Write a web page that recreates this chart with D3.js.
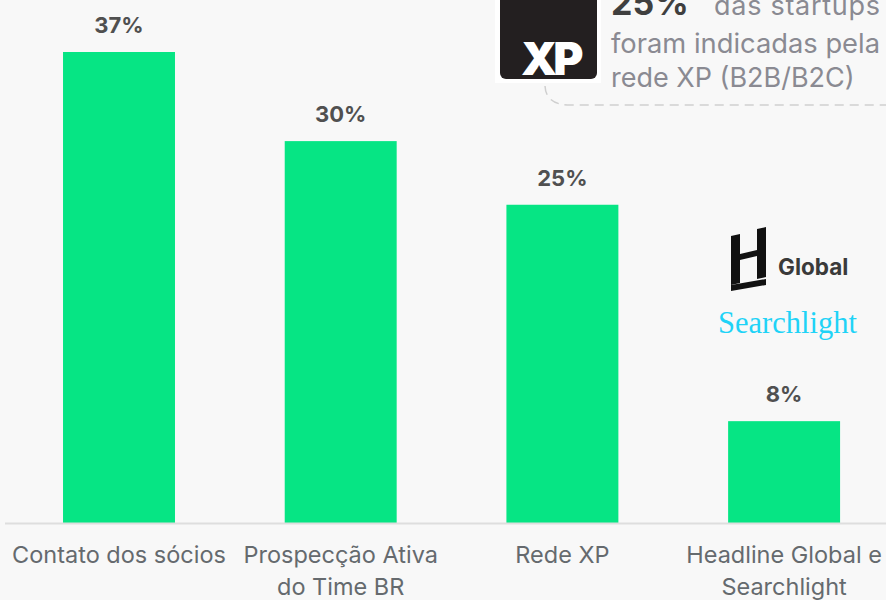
<!DOCTYPE html>
<html><head><meta charset="utf-8">
<script src="https://cdn.jsdelivr.net/npm/d3@7"></script>
<style>
html,body{margin:0;padding:0;background:#f8f8f8;}
svg{display:block;}
</style></head>
<body>
<svg id="c" width="886" height="600"></svg>
<script>
const categories = ["Contato dos sócios", "Prospecção Ativa|do Time BR", "Rede XP", "Headline Global e|Searchlight"];
const values = [37, 30, 25, 8];
const valueLabels = ["37%", "30%", "25%", "8%"];

const W = 886, H = 600;
const svg = d3.select("#c");
svg.append("rect").attr("width", W).attr("height", H).attr("fill", "#f8f8f8");

const x = d3.scaleBand().domain(categories).range([7.6, 895.5]).paddingInner(0.495).paddingOuter(0.25);
const y = d3.scaleLinear().domain([0, 37]).range([523, 52]);

// bars
svg.selectAll(".bar").data(values).enter().append("rect")
  .attr("x", (d, i) => x(categories[i]))
  .attr("y", d => y(d))
  .attr("width", x.bandwidth())
  .attr("height", d => y(0) - y(d))
  .attr("fill", "#06e584");

// baseline
svg.append("line").attr("x1", 5).attr("x2", 886).attr("y1", 523.5).attr("y2", 523.5)
  .attr("stroke", "#dedede").attr("stroke-width", 2);

// value labels
svg.selectAll(".vl").data(values).enter().append("text")
  .attr("x", (d, i) => x(categories[i]) + x.bandwidth() / 2)
  .attr("y", d => y(d) - 19)
  .attr("text-anchor", "middle")
  .attr("font-family", "Inter, sans-serif").attr("font-weight", 700).attr("font-size", 22)
  .attr("fill", "#505050")
  .text((d, i) => valueLabels[i]);

// category labels
categories.forEach((c, i) => {
  const lines = c.split("|");
  const t = svg.append("text")
    .attr("x", x(c) + x.bandwidth() / 2)
    .attr("y", 563)
    .attr("text-anchor", "middle")
    .attr("font-family", "Inter, sans-serif").attr("font-size", 23.5)
    .attr("fill", "#656a6e");
  lines.forEach((l, j) => {
    t.append("tspan").attr("x", x(c) + x.bandwidth() / 2).attr("dy", j === 0 ? 0 : 32).text(l);
  });
});

// callout dashed border
svg.append("path")
  .attr("d", "M545,86 Q546,105 570,105 L886,105")
  .attr("fill", "none").attr("stroke", "#cfcfcf").attr("stroke-width", 1.5)
  .attr("stroke-dasharray", "9,6");

// XP logo
svg.append("rect").attr("x", 495).attr("y", -5).attr("width", 106).attr("height", 88).attr("fill", "#ffffff");
svg.append("rect").attr("x", 500).attr("y", -10).attr("width", 97).attr("height", 89).attr("rx", 6).attr("fill", "#231f20");
svg.append("text").attr("x", 521).attr("y", 75)
  .attr("font-family", "Inter, sans-serif").attr("font-weight", 900).attr("font-size", 46)
  .attr("letter-spacing", -4).attr("fill", "#ffffff").text("XP");

// callout text
const tcol = "#8a8a92";
svg.append("text").attr("x", 611).attr("y", 15)
  .attr("font-family", "Inter, sans-serif").attr("font-weight", 700).attr("font-size", 34)
  .attr("fill", "#3f3f3f").text("25%");
svg.append("text").attr("x", 714).attr("y", 15)
  .attr("font-family", "Inter, sans-serif").attr("font-size", 27)
  .attr("fill", tcol).attr("textLength", 166).attr("lengthAdjust", "spacing").text("das startups");
svg.append("text").attr("x", 611).attr("y", 53)
  .attr("font-family", "Inter, sans-serif").attr("font-size", 27)
  .attr("fill", tcol).attr("textLength", 269).attr("lengthAdjust", "spacingAndGlyphs").text("foram indicadas pela");
svg.append("text").attr("x", 611).attr("y", 87)
  .attr("font-family", "Inter, sans-serif").attr("font-size", 27)
  .attr("fill", tcol).text("rede XP (B2B/B2C)");

// Headline logo (H)
const g = svg.append("g").attr("fill", "#111111");
g.append("path").attr("d", "M731,236 L740,234 L740,283 L731,285 Z");
g.append("path").attr("d", "M757,229 L766,227 L766,277 L757,279 Z");
g.append("path").attr("d", "M740,254 L757,250 L757,256 L740,260 Z");
g.append("path").attr("d", "M731,285 L766,279 L766,285 L731,291 Z");
svg.append("text").attr("x", 778).attr("y", 275)
  .attr("font-family", "Inter, sans-serif").attr("font-weight", 700).attr("font-size", 22.5)
  .attr("fill", "#3a3a3a").text("Global");
svg.append("text").attr("x", 718).attr("y", 333)
  .attr("font-family", "'Liberation Serif', serif").attr("font-size", 30.5)
  .attr("fill", "#1fd3f7").text("Searchlight");
</script>
</body></html>
